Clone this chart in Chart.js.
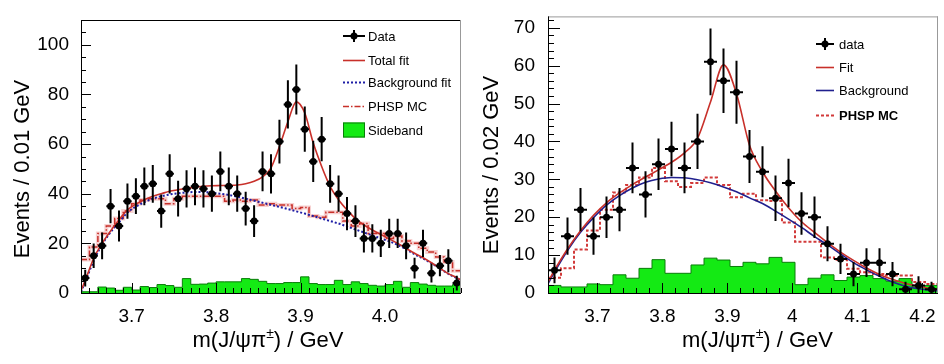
<!DOCTYPE html>
<html>
<head>
<meta charset="utf-8">
<script src="https://cdn.jsdelivr.net/npm/chart.js@4.4.1/dist/chart.umd.min.js"></script>
<style>
  body { margin: 0; background: #fff; width: 944px; height: 364px; overflow: hidden; position: relative; }
  canvas { position: absolute; top: 0; }
  #left { left: 0; }
  #right { left: 472px; }
</style>
</head>
<body>
<canvas id="left" width="472" height="364"></canvas>
<canvas id="right" width="472" height="364"></canvas>
<script>
// ---- left panel : 0.01 GeV bins from 3.64 to 4.09
const binStartL = 3.64, binWL = 0.01, xMaxL = 4.09, yMaxL = 110
const dataL = [6,15,19,35,27,37,39,43,44,33, 48,38,42,43,42,40,49,43,40,34, 29,49,48,61,76,82,66,53,62,44, 40,32,29,22,22,20,24,24,19,10, 20,8,11,13,4]
const errL = [3.4,4.9,5.4,6.9,6.2,7.1,7.2,7.6,7.6,6.7, 7.9,7.2,7.5,7.6,7.5,7.3,8,7.6,7.3,6.8, 6.4,8,7.9,8.8,9.7,10.1,9.1,8.3,8.9,7.6, 7.3,6.7,6.4,5.7,5.7,5.5,5.9,5.9,5.4,4.2, 5.5,3.8,4.3,4.6,3]
const sidebandL = [0.5,0.5,2.4,2,1.1,2.3,1.2,2.6,2.2,3.4, 3,2.3,5.8,3.5,3.6,4,4.5,4.5,4.5,5.8, 5.5,4.7,3.8,3.8,4.2,4.2,6.5,3.8,3.4,3.4, 5.1,3.4,4.5,3.8,3.1,2.8,3.4,4.7,2.3,4.2, 3.6,3.1,2.8,2.8,3.4]
const phspL = [13.5,18.5,24,27,30,33,36,37.5,38,38, 36,38,39,39,39,39,39,37,37.5,37, 37.5,35.5,36,35.5,35.5,34,34.5,31,30.5,32.5, 32.5,29,27,28,24,24,22,23,21,20, 18,16.5,14.5,12.5,9]
// fit curves: value at left edge, at every bin centre, at right edge
const totalFitL = [1, 5,14,20,25,29.5,33.5,35.8,37.6,39,40, 41,41.6,42.2,42.6,43,43.2,43.3,43.4,43.5,44, 45,46.8,50.4,59,69,77,72.5,60.5,51,43, 37.6,33.5,30,27.4,25.4,23.6,21.8,20,18,16, 14.2,12.2,10,7.8,6.2, 5.2]
const bkgFitL = [0.5, 4.5,13,19.5,24.5,28.5,32.4,34.8,36.6,38,39, 39.7,40.2,40.5,40.7,40.7,40.4,40,39.5,38.8,38, 37.2,36.4,35.5,34.7,33.8,32.9,32,31,30,29, 28,26.8,25.6,24.4,23.2,22,20.8,19.4,17.6,15.6, 13.9,12,9.9,7.7,6, 5]
const xTicksL = [3.7, 3.8, 3.9, 4.0]
const xLabelsL = ['3.7', '3.8', '3.9', '4.0']
const yTicksL = [0, 20, 40, 60, 80, 100]
const legendL = ['Data', 'Total fit', 'Background fit', 'PHSP MC', 'Sideband']

// ---- right panel : 0.02 GeV bins from 3.624 to 4.224
const binStartR = 3.624, binWR = 0.02, xMaxR = 4.224, yMaxR = 73
const dataR = [6,15,22,15,20,22,33,26,34,38, 33,40,61,56,53,36,32,25,29,21, 20,13,9,5,8,8,5,1,2,1]
const errR = [3.4,4.9,5.7,4.9,5.5,5.7,6.7,6.1,6.8,7.2, 6.7,7.3,8.8,8.5,8.3,7,6.7,6,6.4,5.6, 5.5,4.6,4,3.2,3.8,3.8,3.2,2,2.4,2]
const sidebandR = [2,1.6,1.6,2.4,2.2,4.8,3.9,6.5,8.8,5.2, 5.2,7.4,9.2,8.7,7,8.1,7.7,9.4,8.1,2.2, 3.9,4.8,3.3,4.2,4.6,3.8,3.1,3.8,1.6,2]
const phspR = [4,6.5,11.5,16.5,22,26.5,28.5,30.5,33,29.5, 28,29,30.5,28.5,25.3,26.2,24.5,24.3,18.6,13.5, 13.5,9.4,8.8,6.4,5.5,5,4.6,4.6,2.9,2.4]
const fitR = [2.9, 6,11.6,16.4,20.5,23.8,26.4,28.6,30.6,32.5,34.5, 37,40.8,50.4,60.2,52.6,39,32,26.9,22.5,18.8, 16,13.3,10.8,8.6,6.6,4.9,3.6,2.5,1.8,1.2, 1]
const bkgR = [2.4, 5.5,11.2,16,19.9,23.2,25.7,27.7,29.2,30.1,30.5, 30.4,29.9,29.1,28,26.7,25.1,23.6,21.6,19.5,17.3, 14.9,12.7,10.3,8,6.1,4.4,2.9,1.8,1.1,0.7, 0.6]
const xTicksR = [3.7, 3.8, 3.9, 4.0, 4.1, 4.2]
const xLabelsR = ['3.7', '3.8', '3.9', '4', '4.1', '4.2']
const yTicksR = [0, 10, 20, 30, 40, 50, 60, 70]
const legendR = ['data', 'Fit', 'Background', 'PHSP MC']

const FONT = '"Liberation Sans", Arial, Helvetica, sans-serif'
Chart.defaults.font.family = FONT
Chart.defaults.color = '#000'

const RED = '#c8302a'
const BLUE = '#1e1ea6'
const NAVY = '#20208e'
const GREEN = '#14ea14'
const DKGREEN = '#0a7d0a'

// bin helpers
function centers(start, w, n) {
  let c = []
  for (let i = 0; i < n; i++) c.push(start + (i + 0.5) * w)
  return c
}
function edges(start, w, n) {
  let e = []
  for (let i = 0; i <= n; i++) e.push(start + i * w)
  return e
}
function points(xs, ys) {
  return ys.map((v, i) => ({ x: xs[i], y: v }))
}
function steps(start, w, vals) {
  let e = edges(start, w, vals.length)
  let p = vals.map((v, i) => ({ x: e[i], y: v }))
  p.push({ x: e[vals.length], y: vals[vals.length - 1] })
  return p
}

// ROOT like frame, ticks, error bars, titles and legend
function rootLook(o) {
  return {
    id: 'rootLook',
    afterDatasetsDraw(chart) {
      const ctx = chart.ctx, a = chart.chartArea
      const xs = chart.scales.x, ys = chart.scales.y
      const meta = chart.getDatasetMeta(0)
      ctx.save()
      ctx.beginPath()
      ctx.rect(a.left, a.top, a.right - a.left, a.bottom - a.top)
      ctx.clip()
      ctx.strokeStyle = '#000'
      ctx.lineWidth = 2
      meta.data.forEach((pt, i) => {
        const raw = chart.data.datasets[0].data[i]
        const e = o.err[i]
        ctx.beginPath()
        ctx.moveTo(pt.x, ys.getPixelForValue(raw.y - e))
        ctx.lineTo(pt.x, ys.getPixelForValue(raw.y + e))
        ctx.moveTo(xs.getPixelForValue(raw.x - o.halfW), pt.y)
        ctx.lineTo(xs.getPixelForValue(raw.x + o.halfW), pt.y)
        ctx.stroke()
        ctx.beginPath()
        ctx.arc(pt.x, pt.y, 3.5, 0, Math.PI * 2)
        ctx.fillStyle = '#000'
        ctx.fill()
      })
      ctx.restore()
    },
    afterDraw(chart) {
      const ctx = chart.ctx, a = chart.chartArea
      const xs = chart.scales.x, ys = chart.scales.y
      ctx.save()
      // frame
      ctx.lineWidth = 1
      ctx.strokeStyle = o.topColor
      ctx.beginPath(); ctx.moveTo(a.left, a.top + 0.5); ctx.lineTo(a.right, a.top + 0.5); ctx.stroke()
      ctx.strokeStyle = o.rightColor
      ctx.beginPath(); ctx.moveTo(a.right - 0.5, a.top); ctx.lineTo(a.right - 0.5, a.bottom); ctx.stroke()
      ctx.strokeStyle = '#000'
      ctx.beginPath()
      ctx.moveTo(a.left + 0.5, a.top); ctx.lineTo(a.left + 0.5, a.bottom + 0.5)
      ctx.lineTo(a.right, a.bottom + 0.5)
      ctx.stroke()
      // y ticks
      ctx.beginPath()
      for (let i = 0; i * o.yMinor <= ys.max; i++) {
        const py = Math.round(ys.getPixelForValue(i * o.yMinor)) + 0.5
        const len = i % o.yMajorEvery === 0 ? o.yMajorLen : o.yMinorLen
        ctx.moveTo(a.left, py); ctx.lineTo(a.left + len, py)
      }
      // x ticks
      for (let i = 0; ; i++) {
        const v = o.xMinorStart + i * o.xMinor
        if (v > xs.max + 1e-9) break
        const px = Math.round(xs.getPixelForValue(v)) + 0.5
        const major = Math.abs(v * 10 - Math.round(v * 10)) < 1e-6
        const len = major ? o.xMajorLen : o.xMinorLen
        ctx.moveTo(px, a.bottom); ctx.lineTo(px, a.bottom - len)
      }
      ctx.stroke()

      // y title
      ctx.fillStyle = '#000'
      ctx.save()
      ctx.translate(o.yTitle.x, o.yTitle.y)
      ctx.rotate(-Math.PI / 2)
      ctx.font = '22px ' + FONT
      ctx.textAlign = 'center'
      ctx.textBaseline = 'alphabetic'
      ctx.fillText(o.yTitle.text, 0, 0)
      ctx.restore()

      // x title with superscript
      const big = '22px ' + FONT, small = '14px ' + FONT
      const p1 = 'm(J/ψπ', p2 = '±', p3 = ') / GeV'
      ctx.font = big
      const w1 = ctx.measureText(p1).width, w3 = ctx.measureText(p3).width
      ctx.font = small
      const w2 = ctx.measureText(p2).width
      let x0 = o.xTitle.x - (w1 + w2 + w3) / 2
      ctx.textAlign = 'left'
      ctx.textBaseline = 'alphabetic'
      ctx.font = big; ctx.fillText(p1, x0, o.xTitle.y)
      ctx.font = small; ctx.fillText(p2, x0 + w1, o.xTitle.y - 9)
      ctx.font = big; ctx.fillText(p3, x0 + w1 + w2, o.xTitle.y)

      // legend
      const L = o.legend
      L.items.forEach((it, k) => {
        const y = L.rows[k]
        ctx.save()
        if (it.kind === 'data') {
          ctx.strokeStyle = '#000'; ctx.lineWidth = 2
          ctx.beginPath()
          ctx.moveTo(L.x, y); ctx.lineTo(L.x + L.w, y)
          ctx.moveTo(L.x + L.w / 2, y - 6); ctx.lineTo(L.x + L.w / 2, y + 6)
          ctx.stroke()
          ctx.beginPath(); ctx.arc(L.x + L.w / 2, y, 3.5, 0, Math.PI * 2); ctx.fillStyle = '#000'; ctx.fill()
        } else if (it.kind === 'line') {
          ctx.strokeStyle = it.color; ctx.lineWidth = it.width
          ctx.setLineDash(it.dash)
          ctx.beginPath(); ctx.moveTo(L.x, y + 0.5); ctx.lineTo(L.x + L.w, y + 0.5); ctx.stroke()
        } else {
          ctx.fillStyle = GREEN; ctx.fillRect(L.x, y - 7.5, L.w, 15)
          ctx.strokeStyle = DKGREEN; ctx.lineWidth = 1; ctx.strokeRect(L.x + 0.5, y - 7, L.w - 1, 14)
        }
        ctx.restore()
        ctx.fillStyle = '#000'
        ctx.font = (it.bold ? 'bold ' : '') + L.font + 'px ' + FONT
        ctx.textAlign = 'left'
        ctx.textBaseline = 'middle'
        ctx.fillText(it.label, L.tx, y + 1)
      })
      ctx.restore()
    }
  }
}

function axes(xmin, xmax, xTicks, xLabels, ymax, yTicks, yWidth, yPad) {
  return {
    x: {
      type: 'linear', min: xmin, max: xmax,
      grid: { display: false }, border: { display: false },
      afterBuildTicks: s => { s.ticks = xTicks.map(v => ({ value: v })) },
      afterFit: s => { s.height = 71 },
      ticks: { font: { size: 19 }, color: '#000', padding: 4, maxRotation: 0, autoSkip: false,
        callback: (v, i) => xLabels[i] }
    },
    y: {
      type: 'linear', min: 0, max: ymax,
      grid: { display: false }, border: { display: false },
      afterBuildTicks: s => { s.ticks = yTicks.map(v => ({ value: v })) },
      afterFit: s => { s.width = yWidth },
      ticks: { font: { size: 19 }, color: '#000', padding: yPad, callback: (v, i) => String(yTicks[i]) }
    }
  }
}

// ---------- left chart
const centersL = centers(binStartL, binWL, dataL.length)
const curveXL = [binStartL].concat(centersL, [xMaxL])

new Chart(document.getElementById('left'), {
  type: 'line',
  data: {
    datasets: [
      { label: legendL[0], data: points(centersL, dataL), showLine: false, pointRadius: 0 },
      { label: legendL[1], data: points(curveXL, totalFitL), borderColor: RED, borderWidth: 1.6,
        pointRadius: 0, cubicInterpolationMode: 'monotone', fill: false },
      { label: legendL[2], data: points(curveXL, bkgFitL), borderColor: BLUE, borderWidth: 2, borderDash: [2, 2],
        pointRadius: 0, cubicInterpolationMode: 'monotone', fill: false },
      { label: legendL[3], data: steps(binStartL, binWL, phspL), stepped: 'before', borderColor: RED, borderWidth: 1.5,
        borderDash: [6, 2, 1.5, 2], pointRadius: 0, fill: false },
      { label: 'band', data: steps(binStartL, binWL, phspL), stepped: 'before', borderColor: 'rgba(225,90,90,0.28)',
        borderWidth: 4, pointRadius: 0, fill: false },
      { label: legendL[4], data: steps(binStartL, binWL, sidebandL), stepped: 'before', borderColor: DKGREEN,
        borderWidth: 1, backgroundColor: GREEN, fill: 'origin', pointRadius: 0 }
    ]
  },
  options: {
    responsive: false, animation: false, events: [],
    layout: { padding: { top: 20, right: 11, left: 0, bottom: 0 } },
    plugins: { legend: { display: false }, tooltip: { enabled: false } },
    scales: axes(binStartL, xMaxL, xTicksL, xLabelsL, yMaxL, yTicksL, 81, 4)
  },
  plugins: [rootLook({
    err: errL, halfW: binWL / 2,
    yMinor: 5, yMajorEvery: 4, yMajorLen: 10, yMinorLen: 5,
    xMinorStart: 3.64, xMinor: 0.01, xMajorLen: 10, xMinorLen: 5,
    topColor: '#000', rightColor: '#999',
    yTitle: { text: 'Events / 0.01 GeV', x: 28.5, y: 169 },
    xTitle: { x: 268, y: 347 },
    legend: {
      x: 343, w: 22, tx: 368, font: 13, rows: [36, 60, 82, 106, 130],
      items: [
        { kind: 'data', label: legendL[0] },
        { kind: 'line', label: legendL[1], color: RED, width: 1.6, dash: [] },
        { kind: 'line', label: legendL[2], color: BLUE, width: 2, dash: [2, 2] },
        { kind: 'line', label: legendL[3], color: RED, width: 1.5, dash: [6, 2, 1.5, 2] },
        { kind: 'box', label: legendL[4] }
      ]
    }
  })]
})

// ---------- right chart
const centersR = centers(binStartR, binWR, dataR.length)
const curveXR = [binStartR].concat(centersR, [xMaxR])

new Chart(document.getElementById('right'), {
  type: 'line',
  data: {
    datasets: [
      { label: legendR[0], data: points(centersR, dataR), showLine: false, pointRadius: 0 },
      { label: legendR[1], data: points(curveXR, fitR), borderColor: RED, borderWidth: 1.6,
        pointRadius: 0, cubicInterpolationMode: 'monotone', fill: false },
      { label: legendR[2], data: points(curveXR, bkgR), borderColor: NAVY, borderWidth: 1.6,
        pointRadius: 0, cubicInterpolationMode: 'monotone', fill: false },
      { label: legendR[3], data: steps(binStartR, binWR, phspR), stepped: 'before', borderColor: '#d23a3a',
        borderWidth: 2, borderDash: [3, 2], pointRadius: 0, fill: false },
      { label: 'Sideband', data: steps(binStartR, binWR, sidebandR), stepped: 'before', borderColor: DKGREEN,
        borderWidth: 1, backgroundColor: GREEN, fill: 'origin', pointRadius: 0 }
    ]
  },
  options: {
    responsive: false, animation: false, events: [],
    layout: { padding: { top: 13, right: 6, left: 0, bottom: 0 } },
    plugins: { legend: { display: false }, tooltip: { enabled: false } },
    scales: axes(binStartR, xMaxR, xTicksR, xLabelsR, yMaxR, yTicksR, 76, 5)
  },
  plugins: [rootLook({
    err: errR, halfW: binWR / 2,
    yMinor: 2, yMajorEvery: 5, yMajorLen: 12, yMinorLen: 6,
    xMinorStart: 3.64, xMinor: 0.02, xMajorLen: 10, xMinorLen: 5,
    topColor: '#999', rightColor: '#999',
    yTitle: { text: 'Events / 0.02 GeV', x: 26, y: 165 },
    xTitle: { x: 285.5, y: 347 },
    legend: {
      x: 344, w: 18, tx: 367, font: 13, rows: [44, 67, 90, 115],
      items: [
        { kind: 'data', label: legendR[0] },
        { kind: 'line', label: legendR[1], color: RED, width: 1.6, dash: [] },
        { kind: 'line', label: legendR[2], color: NAVY, width: 1.6, dash: [] },
        { kind: 'line', label: legendR[3], color: '#d23a3a', width: 2, dash: [3, 2], bold: true }
      ]
    }
  })]
})
</script>
</body>
</html>
